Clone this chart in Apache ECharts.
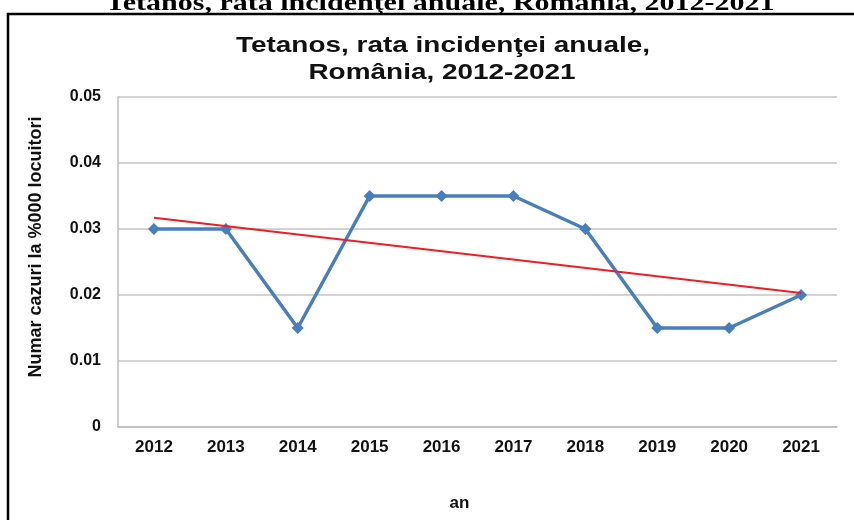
<!DOCTYPE html>
<html>
<head>
<meta charset="utf-8">
<script src="https://cdn.jsdelivr.net/npm/echarts@6/dist/echarts.min.js"></script>
<style>
html,body{margin:0;padding:0;background:#fff;}
#c{width:854px;height:520px;}
</style>
</head>
<body>
<div id="c"></div>
<script>
var years = ['2012','2013','2014','2015','2016','2017','2018','2019','2020','2021'];
var rates = [0.030, 0.030, 0.015, 0.035, 0.035, 0.035, 0.030, 0.015, 0.015, 0.020];
var trend = [0.0317, null, null, null, null, null, null, null, null, 0.0203];
var yTicks = [0, 0.01, 0.02, 0.03, 0.04, 0.05];
var outerTitle = 'Tetanos, rata incidenţei anuale, România, 2012-2021';
var innerTitle = ['Tetanos, rata incidenţei anuale,', 'România, 2012-2021'];

var SANS = '"Liberation Sans", Arial, sans-serif';
var chart = echarts.init(document.getElementById('c'));
chart.setOption({
  animation: false,
  backgroundColor: '#fff',
  graphic: [
    {type:'rect', shape:{x:8, y:14, width:900, height:600}, style:{fill:'none', stroke:'#000', lineWidth:2.5}, z:100},
    {type:'text', x:440, y:16, scaleX:1.25, style:{text:outerTitle, font:'bold 24px "Liberation Serif", "Times New Roman", serif', fill:'#000', textAlign:'center', textVerticalAlign:'bottom'}, z:99},
    {type:'text', x:443, y:46, scaleX:1.27, style:{text:innerTitle[0], font:'bold 22px ' + SANS, fill:'#111', textAlign:'center', textVerticalAlign:'middle'}, z:100},
    {type:'text', x:442, y:73, scaleX:1.27, style:{text:innerTitle[1], font:'bold 22px ' + SANS, fill:'#111', textAlign:'center', textVerticalAlign:'middle'}, z:100}
  ],
  grid: {left:118, right:17, top:97, bottom:93, containLabel:false},
  xAxis: {
    type:'category', data: years, boundaryGap: true,
    name:'an', nameLocation:'middle', nameGap:68,
    nameTextStyle:{fontFamily:SANS, fontWeight:'bold', fontSize:17, color:'#111', padding:[0,36,0,0]},
    axisLine:{lineStyle:{color:'#bdbdbd', width:1.5}},
    axisTick:{show:false},
    axisLabel:{fontFamily:SANS, fontWeight:'bold', fontSize:17, color:'#111', margin:12}
  },
  yAxis: {
    type:'value', min:0, max:0.05, interval:0.01,
    name:'Numar cazuri la %000 locuitori', nameLocation:'middle', nameGap:73, nameRotate:90,
    nameTextStyle:{fontFamily:SANS, fontWeight:'bold', fontSize:18, color:'#111', padding:[0,0,0,30]},
    axisLine:{show:true, lineStyle:{color:'#bdbdbd', width:1.5}},
    axisTick:{show:false},
    splitLine:{lineStyle:{color:'#c4c4c4', width:1.5}},
    axisLabel:{fontFamily:SANS, fontWeight:'bold', fontSize:16, color:'#111', margin:17,
      formatter:function(v){ return yTicks.indexOf(v) >= 0 ? String(v) : ''; }}
  },
  series: [
    {type:'line', data: rates, symbol:'diamond', symbolSize:12,
      lineStyle:{color:'#4a7ebb', width:3.5}, itemStyle:{color:'#4a7ebb'}, z:2},
    {type:'line', data: trend, connectNulls:true, symbol:'none',
      lineStyle:{color:'#e8202a', width:2}, z:3}
  ]
});
</script>
</body>
</html>
